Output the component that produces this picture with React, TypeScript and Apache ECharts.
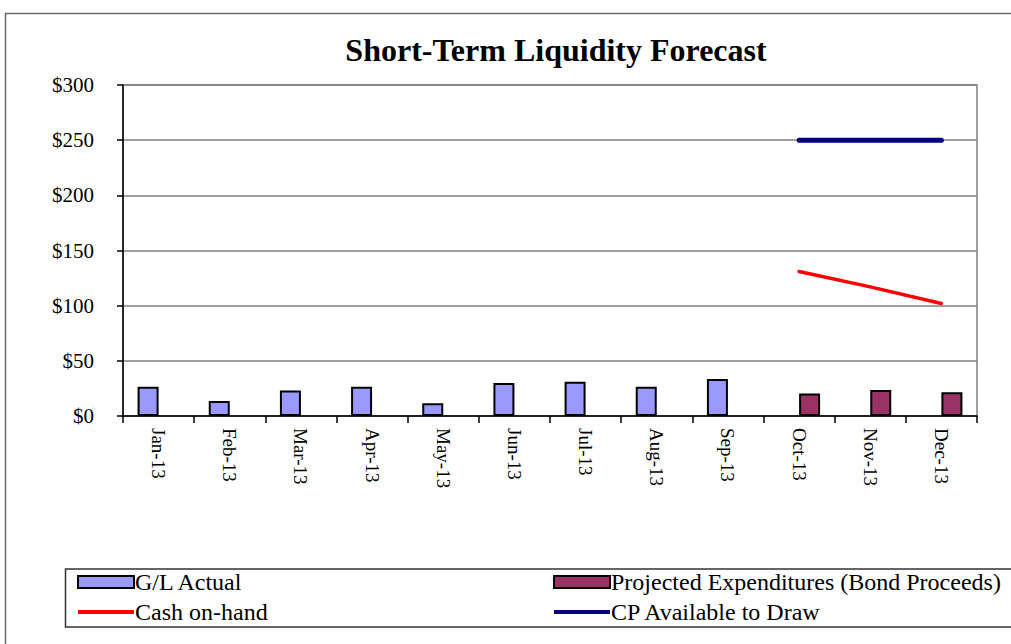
import React, { useEffect, useRef } from "react";
import * as echarts from "echarts";

const months = ["Jan-13", "Feb-13", "Mar-13", "Apr-13", "May-13", "Jun-13", "Jul-13", "Aug-13", "Sep-13", "Oct-13", "Nov-13", "Dec-13"];
const glActual = [26.5, 13.5, 23, 26.5, 11.5, 30, 31, 26.5, 33.5, null, null, null];
const projectedExp = [null, null, null, null, null, null, null, null, null, 20.5, 23.5, 21.5];
const cashOnHand = [null, null, null, null, null, null, null, null, null, 131, 117, 102];
const cpAvailable = [null, null, null, null, null, null, null, null, null, 250, 250, 250];
const yTicks = [0, 50, 100, 150, 200, 250, 300];

const FONT = "'Liberation Serif', 'Times New Roman', serif";
const LINE_ICON = "path://M0,0 H56 V4 H0 Z";

export default function App() {
  const ref = useRef<HTMLDivElement>(null);
  useEffect(() => {
    if (!ref.current) return;
    const chart = echarts.init(ref.current, null, { renderer: "svg" });
    const legendCommon = {
      orient: "vertical",
      top: 570,
      itemWidth: 56,
      itemHeight: 12,
      itemGap: 6,
      padding: 0,
      textStyle: { fontFamily: FONT, fontSize: 24, color: "#000", lineHeight: 24, padding: [0, 0, 0, -4] },
    };
    chart.setOption({
      animation: false,
      backgroundColor: "#fff",
      textStyle: { fontFamily: FONT },
      title: {
        text: "Short-Term Liquidity Forecast",
        left: 551,
        top: 29,
        textAlign: "center",
        textStyle: { fontFamily: FONT, fontSize: 32, fontWeight: "bold", color: "#000" },
      },
      graphic: [
        {
          type: "rect",
          shape: { x: 5.5, y: 13.5, width: 1100, height: 700 },
          style: { fill: "none", stroke: "#6a6a6a", lineWidth: 1.5 },
          silent: true,
          z: -1,
        },
        {
          type: "rect",
          shape: { x: 65.5, y: 569, width: 1000, height: 58 },
          style: { fill: "none", stroke: "#333", lineWidth: 1.5 },
          silent: true,
        },
      ],
      legend: [
        {
          ...legendCommon,
          left: 77,
          data: [
            { name: "G/L Actual", icon: "rect" },
            { name: "Cash on-hand", icon: LINE_ICON },
          ],
        },
        {
          ...legendCommon,
          left: 553,
          data: [
            { name: "Projected Expenditures (Bond Proceeds)", icon: "rect" },
            { name: "CP Available to Draw", icon: LINE_ICON },
          ],
        },
      ],
      grid: {
        left: 123,
        right: 34,
        top: 85,
        bottom: 228,
        show: true,
        borderColor: "#808080",
        borderWidth: 1.5,
      },
      xAxis: {
        type: "category",
        data: months,
        boundaryGap: true,
        axisLine: { lineStyle: { color: "#000", width: 1.5 } },
        axisTick: { show: true, length: 7, lineStyle: { color: "#000", width: 1.5 } },
        axisLabel: {
          rotate: -90,
          margin: 12,
          fontFamily: FONT,
          fontSize: 19,
          color: "#000",
        },
      },
      yAxis: {
        type: "value",
        min: 0,
        max: 300,
        interval: 50,
        axisLine: { show: true, lineStyle: { color: "#000", width: 1.5 } },
        axisTick: { show: true, length: 6, lineStyle: { color: "#000", width: 1.5 } },
        axisLabel: {
          margin: 29,
          fontFamily: FONT,
          fontSize: 21,
          color: "#000",
          formatter: (v: number) => (yTicks.includes(v) ? "$" + v : ""),
        },
        splitLine: { lineStyle: { color: "#808080", width: 1.5 } },
      },
      series: [
        {
          name: "G/L Actual",
          type: "bar",
          data: glActual,
          barWidth: 21,
          barGap: "0%",
          itemStyle: { color: "#9999FF", borderColor: "#000", borderWidth: 2 },
        },
        {
          name: "Projected Expenditures (Bond Proceeds)",
          type: "bar",
          data: projectedExp,
          barWidth: 21,
          barGap: "0%",
          itemStyle: { color: "#993366", borderColor: "#000", borderWidth: 2 },
        },
        {
          name: "Cash on-hand",
          type: "line",
          data: cashOnHand,
          symbol: "none",
          lineStyle: { color: "#FF0000", width: 3.5, cap: "round" },
          itemStyle: { color: "#FF0000" },
        },
        {
          name: "CP Available to Draw",
          type: "line",
          data: cpAvailable,
          symbol: "none",
          lineStyle: { color: "#000080", width: 5, cap: "round" },
          itemStyle: { color: "#000080" },
        },
      ],
    });
    return () => chart.dispose();
  }, []);
  return (
    <div
      ref={ref}
      style={{ position: "fixed", left: 0, top: 0, width: 1011, height: 644, background: "#fff" }}
    />
  );
}
